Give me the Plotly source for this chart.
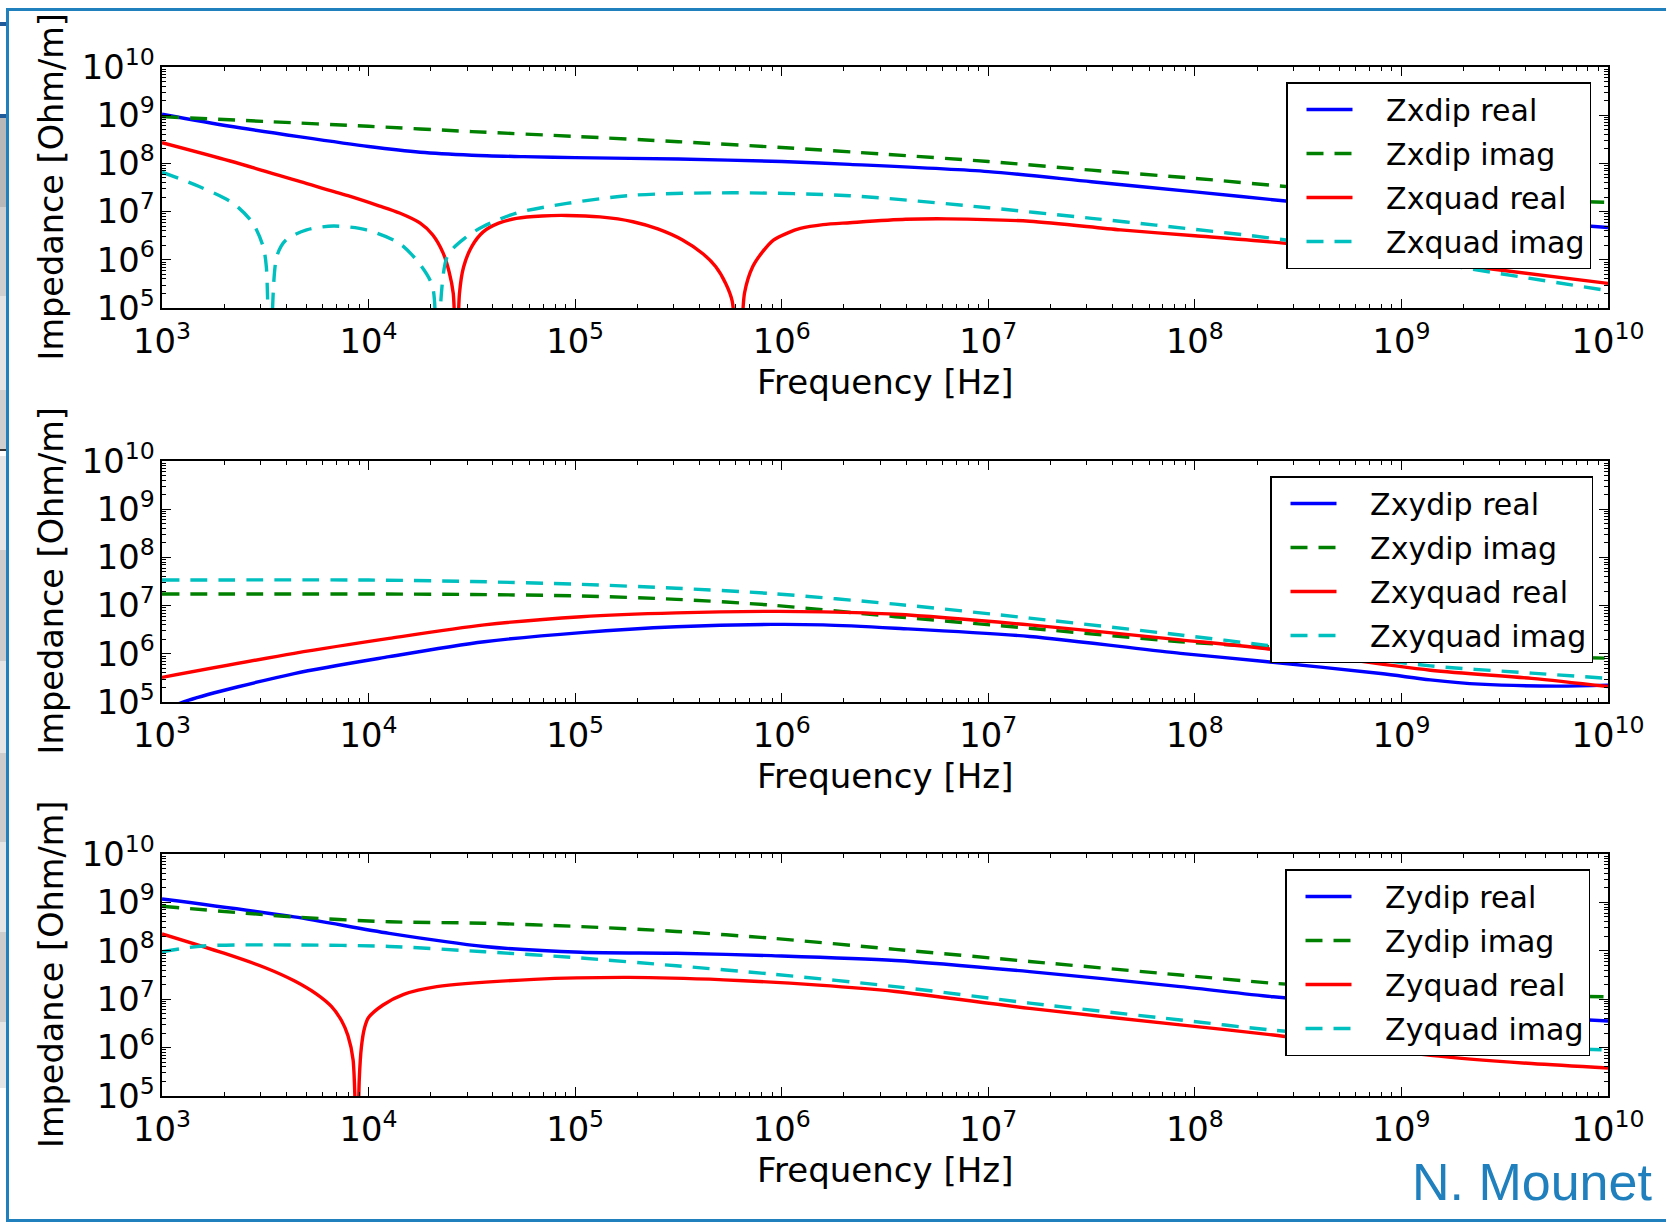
import plotly.graph_objects as go

W, H = 1666, 1223

# ---------------- Panel 1: horizontal (x) impedances ----------------
zxdip_re_logf = [3.0, 3.33, 3.67, 4.0, 4.25, 4.5, 4.75, 5.0, 5.5, 6.0, 6.33, 7.0, 7.5, 8.0, 8.44, 9.0, 9.5, 10.0]
zxdip_re_logz = [9.02, 8.77, 8.55, 8.35, 8.23, 8.17, 8.14, 8.12, 8.09, 8.04, 7.98, 7.83, 7.62, 7.41, 7.22, 7.00, 6.83, 6.67]

zxdip_im_logf = [3.0, 3.5, 4.0, 4.5, 5.0, 5.5, 6.0, 6.5, 7.0, 7.5, 8.0, 8.5, 9.0, 9.5, 10.0]
zxdip_im_logz = [8.97, 8.87, 8.77, 8.66, 8.56, 8.45, 8.33, 8.19, 8.04, 7.86, 7.69, 7.50, 7.36, 7.26, 7.19]

zxquad_re_logf = [3.0, 3.33, 3.67, 3.9, 4.05, 4.15, 4.25, 4.31, 4.36, 4.39, 4.41, 4.426, 4.44, 4.46,
                  4.50, 4.555, 4.63, 4.716, 4.84, 4.96, 5.12, 5.28, 5.40, 5.52, 5.62, 5.68, 5.73,
                  5.76, 5.794, 5.82, 5.86, 5.91, 5.96, 6.03, 6.09, 6.2, 6.33, 6.6, 6.8, 7.2, 7.64,
                  8.0, 8.44, 9.0, 9.34, 10.0]
zxquad_re_logz = [8.43, 8.05, 7.62, 7.33, 7.12, 6.97, 6.76, 6.52, 6.15, 5.75, 5.30, 3.50, 5.30, 5.85,
                  6.28, 6.58, 6.76, 6.86, 6.91, 6.92, 6.89, 6.79, 6.64, 6.41, 6.12, 5.86, 5.50,
                  5.15, 3.50, 5.31, 5.86, 6.18, 6.41, 6.56, 6.65, 6.73, 6.77, 6.84, 6.85, 6.80, 6.62,
                  6.50, 6.34, 6.05, 5.86, 5.51]

zxquad_im_logf = [3.0, 3.18, 3.345, 3.44, 3.49, 3.505, 3.523, 3.555, 3.60, 3.70, 3.83, 3.99, 4.15,
                  4.25, 4.31, 4.33, 4.38, 4.475, 4.555, 4.716, 4.96, 5.28, 5.76, 6.33, 7.0, 7.5,
                  7.81, 8.44, 9.26, 10.0]
zxquad_im_logz = [7.82, 7.52, 7.17, 6.76, 6.27, 5.86, 3.50, 6.06, 6.41, 6.62, 6.70, 6.62, 6.34,
                  5.90, 5.44, 3.50, 6.06, 6.48, 6.69, 6.97, 7.17, 7.34, 7.39, 7.33, 7.08, 6.86,
                  6.72, 6.41, 5.86, 5.36]

# ---------------- Panel 2: coupling (xy) impedances ----------------
zxydip_re_logf = [3.0, 3.13, 3.64, 4.10, 4.56, 5.03, 5.49, 5.95, 6.2, 6.55, 7.20, 7.93, 8.34, 8.90, 9.14, 9.38, 9.75, 10.0]
zxydip_re_logz = [4.82, 5.04, 5.59, 5.94, 6.25, 6.44, 6.56, 6.61, 6.60, 6.53, 6.36, 6.01, 5.84, 5.59, 5.46, 5.37, 5.33, 5.35]

zxydip_im_logf = [3.0, 4.0, 4.5, 5.03, 5.49, 5.95, 6.55, 7.20, 7.93, 8.34, 9.0, 9.5, 10.0]
zxydip_im_logz = [7.24, 7.24, 7.23, 7.20, 7.13, 7.01, 6.77, 6.53, 6.25, 6.15, 6.02, 5.95, 5.91]

zxyquad_re_logf = [3.0, 3.64, 4.10, 4.56, 5.03, 5.49, 5.95, 6.2, 6.55, 7.20, 7.93, 8.34, 9.14, 9.63, 10.0]
zxyquad_re_logz = [5.51, 6.01, 6.32, 6.60, 6.77, 6.85, 6.88, 6.87, 6.82, 6.60, 6.29, 6.11, 5.66, 5.49, 5.32]

zxyquad_im_logf = [3.0, 4.0, 4.5, 5.03, 5.49, 5.95, 6.55, 7.20, 7.93, 8.34, 9.14, 9.63, 10.0]
zxyquad_im_logz = [7.53, 7.53, 7.50, 7.44, 7.36, 7.25, 7.03, 6.74, 6.39, 6.18, 5.75, 5.60, 5.49]

# ---------------- Panel 3: vertical (y) impedances ----------------
zydip_re_logf = [3.0, 3.64, 4.10, 4.56, 5.03, 5.49, 5.95, 6.55, 7.20, 7.93, 8.38, 9.0, 9.5, 10.0]
zydip_re_logz = [9.07, 8.70, 8.36, 8.09, 7.97, 7.95, 7.90, 7.80, 7.57, 7.26, 7.05, 6.82, 6.66, 6.55]

zydip_im_logf = [3.0, 3.64, 4.10, 4.56, 5.03, 5.49, 5.95, 6.55, 7.20, 7.93, 8.38, 9.0, 9.5, 10.0]
zydip_im_logz = [8.92, 8.70, 8.60, 8.57, 8.50, 8.40, 8.26, 8.03, 7.78, 7.50, 7.33, 7.17, 7.09, 7.05]

zyquad_re_logf = [3.0, 3.3, 3.5, 3.64, 3.75, 3.82, 3.87, 3.90, 3.925, 3.944, 3.955, 3.965, 3.98,
                  4.0, 4.07, 4.17, 4.33, 4.80, 5.26, 5.72, 6.18, 6.55, 7.20, 7.93, 8.38, 9.14, 9.63, 10.0]
zyquad_re_logz = [8.35, 7.95, 7.65, 7.38, 7.10, 6.85, 6.55, 6.25, 5.75, 3.50, 5.35, 6.00, 6.40,
                  6.62, 6.88, 7.10, 7.26, 7.41, 7.45, 7.40, 7.29, 7.16, 6.81, 6.47, 6.26, 5.84, 5.67, 5.58]

zyquad_im_logf = [3.0, 3.2, 3.64, 4.10, 4.56, 5.03, 5.49, 5.95, 6.55, 7.20, 7.93, 8.38, 9.0, 9.5, 10.0]
zyquad_im_logz = [7.98, 8.10, 8.12, 8.09, 7.98, 7.85, 7.69, 7.52, 7.26, 6.92, 6.57, 6.36, 6.15, 6.03, 5.95]

# ---------------- styling ----------------
FONT = "DejaVu Sans"
BLUE, GREEN, RED, CYAN = "#0000ff", "#008000", "#ff0000", "#00bfbf"
FRAME_BLUE = "#1f80bd"
DASH = "17px,11px"
PAD = "\u00a0\u00a0\u00a0"   # gap between legend sample and label

AX_L, AX_R = 162, 1608
PANEL_TOP = [67, 461, 854]
PANEL_BOT = [308, 702, 1096]


def px_x(p):
    return p / W


def px_y(p):
    return 1 - p / H


panels = [
    [("Zxdip real", zxdip_re_logf, zxdip_re_logz, BLUE, "solid"),
     ("Zxdip imag", zxdip_im_logf, zxdip_im_logz, GREEN, DASH),
     ("Zxquad real", zxquad_re_logf, zxquad_re_logz, RED, "solid"),
     ("Zxquad imag", zxquad_im_logf, zxquad_im_logz, CYAN, DASH)],
    [("Zxydip real", zxydip_re_logf, zxydip_re_logz, BLUE, "solid"),
     ("Zxydip imag", zxydip_im_logf, zxydip_im_logz, GREEN, DASH),
     ("Zxyquad real", zxyquad_re_logf, zxyquad_re_logz, RED, "solid"),
     ("Zxyquad imag", zxyquad_im_logf, zxyquad_im_logz, CYAN, DASH)],
    [("Zydip real", zydip_re_logf, zydip_re_logz, BLUE, "solid"),
     ("Zydip imag", zydip_im_logf, zydip_im_logz, GREEN, DASH),
     ("Zyquad real", zyquad_re_logf, zyquad_re_logz, RED, "solid"),
     ("Zyquad imag", zyquad_im_logf, zyquad_im_logz, CYAN, DASH)],
]

# legend boxes: (left edge px, top edge px)
legend_pos = [(1286, 82), (1270, 476), (1285, 869)]

fig = go.Figure()
layout = dict(
    width=W, height=H,
    margin=dict(l=0, r=0, t=0, b=0, autoexpand=False),
    paper_bgcolor="white", plot_bgcolor="white",
    font=dict(family=FONT, color="black"),
    showlegend=True,
)

annotations = []
for i, series in enumerate(panels):
    n = "" if i == 0 else str(i + 1)
    leg = "legend" if i == 0 else f"legend{i + 1}"
    for name, lf, lz, color, dash in series:
        fig.add_trace(go.Scatter(
            x=[10 ** v for v in lf], y=[10 ** v for v in lz],
            mode="lines", name=PAD + name, legendgroup=name, legend=leg,
            line=dict(color=color, width=3.4, dash=dash, shape="spline", smoothing=0.8),
            xaxis="x" + n, yaxis="y" + n,
        ))

    common = dict(
        type="log", dtick=1, exponentformat="power", automargin=False,
        showline=True, linecolor="black", linewidth=1.5, mirror="ticks",
        ticks="inside", ticklen=9, tickwidth=1, tickcolor="black",
        minor=dict(ticks="inside", ticklen=4.5, tickwidth=1, tickcolor="black", dtick="D1", showgrid=False),
        showgrid=False, zeroline=False,
        tickfont=dict(family=FONT, size=27, color="black"),
    )
    layout["xaxis" + n] = dict(common, range=[3, 10], domain=[px_x(AX_L), px_x(AX_R)],
                               anchor="y" + n, ticklabelstandoff=4)
    layout["yaxis" + n] = dict(common, range=[5, 10],
                               domain=[px_y(PANEL_BOT[i]), px_y(PANEL_TOP[i])],
                               anchor="x" + n, ticklabelstandoff=0)
    lx, ty = legend_pos[i]
    layout[leg] = dict(
        x=px_x(lx), y=px_y(ty), xanchor="left", yanchor="top",
        bgcolor="white", bordercolor="black", borderwidth=1.5,
        font=dict(family=FONT, size=30, color="black"),
        itemwidth=46, indentation=14, traceorder="grouped", tracegroupgap=2,
    )
    # axis titles
    annotations.append(dict(
        text="Frequency [Hz]", xref="paper", yref="paper",
        x=px_x((AX_L + AX_R) / 2), y=px_y(PANEL_BOT[i] + 74), showarrow=False,
        xanchor="center", yanchor="middle", font=dict(family=FONT, size=34, color="black"),
    ))
    annotations.append(dict(
        text="Impedance [Ohm/m]", xref="paper", yref="paper",
        x=px_x(51), y=px_y((PANEL_TOP[i] + PANEL_BOT[i]) / 2), showarrow=False,
        textangle=-90, xanchor="center", yanchor="middle",
        font=dict(family=FONT, size=33.5, color="black"),
    ))

annotations.append(dict(
    text="N. Mounet", xref="paper", yref="paper", x=px_x(1654), y=px_y(1182),
    showarrow=False, xanchor="right", yanchor="middle",
    font=dict(family="Liberation Sans", size=52, color=FRAME_BLUE),
))
layout["annotations"] = annotations

# slide frame and the sliver of the neighbouring slide at the left edge
shapes = []
bands = [(115, 207, "#b8b8b8"), (207, 296, "#cfcfcf"), (296, 390, "#e3e3e3"),
         (390, 449, "#cfcfcf"), (456, 550, "#e5e5e5"), (550, 661, "#cccccc"),
         (661, 753, "#e5e5e5"), (753, 842, "#cccccc"), (842, 932, "#e5e5e5"),
         (932, 1022, "#cccccc"), (1022, 1088, "#e5e5e5")]
for y0, y1, c in bands:
    shapes.append(dict(type="rect", xref="paper", yref="paper", x0=0, x1=px_x(6),
                       y0=px_y(y1), y1=px_y(y0), fillcolor=c, line=dict(width=0), layer="below"))
shapes.append(dict(type="rect", xref="paper", yref="paper", x0=0, x1=px_x(6),
                   y0=px_y(451), y1=px_y(449), fillcolor="#333333", line=dict(width=0)))
for yb in (22, 114):
    shapes.append(dict(type="rect", xref="paper", yref="paper", x0=0, x1=px_x(6),
                       y0=px_y(yb + 4), y1=px_y(yb), fillcolor="#1f5a9a", line=dict(width=0)))
shapes.append(dict(type="rect", xref="paper", yref="paper", x0=px_x(7.5), x1=px_x(1700),
                   y0=px_y(1220.5), y1=px_y(9.5), line=dict(color=FRAME_BLUE, width=3),
                   fillcolor="rgba(0,0,0,0)"))
layout["shapes"] = shapes

fig.update_layout(**layout)
fig.write_html("out.html")
